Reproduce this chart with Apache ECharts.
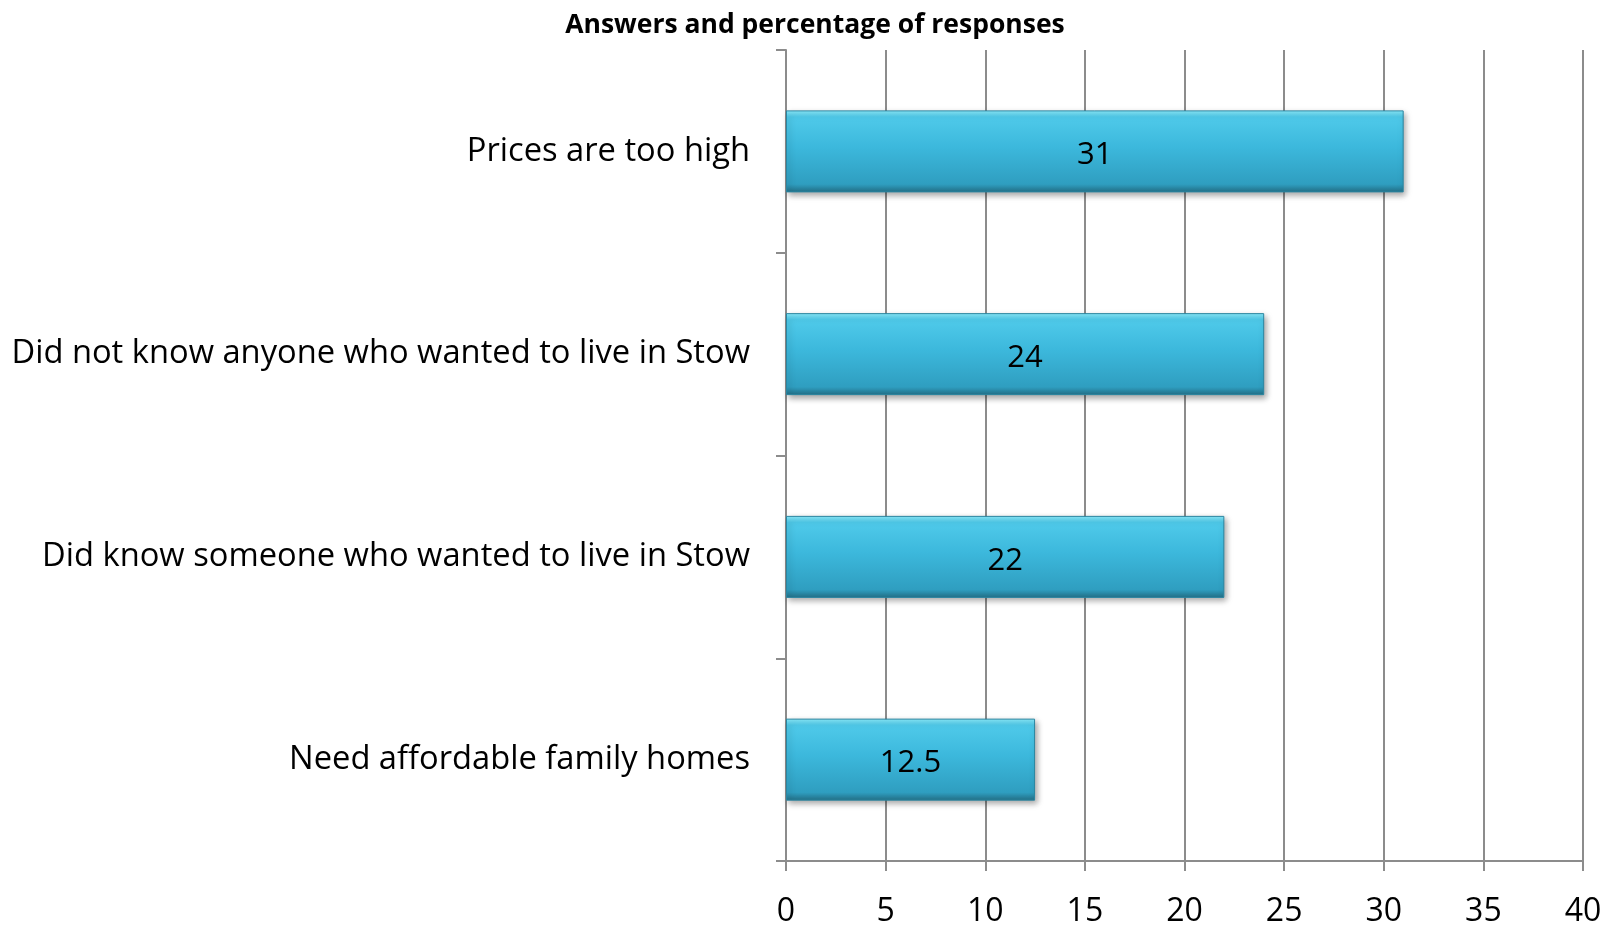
<!DOCTYPE html>
<html>
<head>
<meta charset="utf-8">
<script src="https://cdn.jsdelivr.net/npm/echarts@6/dist/echarts.min.js"></script>
<style>
  html, body { margin: 0; padding: 0; background: #fff; }
  #chart { width: 1617px; height: 930px; }
</style>
</head>
<body>
<div id="chart"></div>
<script>
// data
var categories = [
    'Prices are too high',
    'Did not know anyone who wanted to live in Stow',
    'Did know someone who wanted to live in Stow',
    'Need affordable family homes'
];
var values = [31, 24, 22, 12.5];
var xTicks = [0, 5, 10, 15, 20, 25, 30, 35, 40];

var myChart = echarts.init(document.getElementById('chart'));
var font = 'Open Sans';
var gray = '#8c8c8c';

var option = {
    animation: false,
    title: {
        left: 810,
        textAlign: 'center',
        top: 7,
        text: 'Answers and percentage of responses',
        textStyle: {
            fontFamily: font,
            fontWeight: 'bold',
            fontSize: 26.5,
            color: '#000'
        }
    },
    grid: {
        left: 786,
        right: 34,
        top: 50,
        bottom: 69
    },
    xAxis: {
        type: 'value',
        min: xTicks[0],
        max: xTicks[xTicks.length - 1],
        interval: 5,
        axisLine: { show: true, lineStyle: { color: gray, width: 2 } },
        axisTick: { show: true, length: 10, lineStyle: { color: gray, width: 2 } },
        splitLine: { show: true, lineStyle: { color: gray, width: 2 } },
        axisLabel: {
            fontFamily: font,
            fontSize: 32,
            color: '#000',
            margin: 35
        }
    },
    yAxis: {
        type: 'category',
        inverse: true,
        data: categories,
        axisLine: { show: true, lineStyle: { color: gray, width: 2 } },
        axisTick: { show: true, length: 10, lineStyle: { color: gray, width: 2 } },
        axisLabel: {
            fontFamily: font,
            fontSize: 32.7,
            color: '#000',
            margin: 36,
            padding: [6, 0, 0, 0]
        }
    },
    series: [{
        type: 'bar',
        data: values,
        barWidth: 82,
        label: {
            show: true,
            position: 'inside',
            offset: [0, 4],
            fontFamily: font,
            fontSize: 31,
            color: '#000'
        },
        itemStyle: {
            color: new echarts.graphic.LinearGradient(0, 0, 0, 1, [
                { offset: 0, color: '#8cecfc' },
                { offset: 0.08, color: '#4fcaea' },
                { offset: 0.45, color: '#3cb8dc' },
                { offset: 0.9, color: '#2f9ec0' },
                { offset: 1, color: '#236f86' }
            ]),
            borderColor: '#2a86a1',
            borderWidth: 1,
            shadowColor: 'rgba(0,0,0,0.35)',
            shadowBlur: 6,
            shadowOffsetY: 3,
            shadowOffsetX: 2
        }
    }]
};
myChart.setOption(option);
</script>
</body>
</html>
